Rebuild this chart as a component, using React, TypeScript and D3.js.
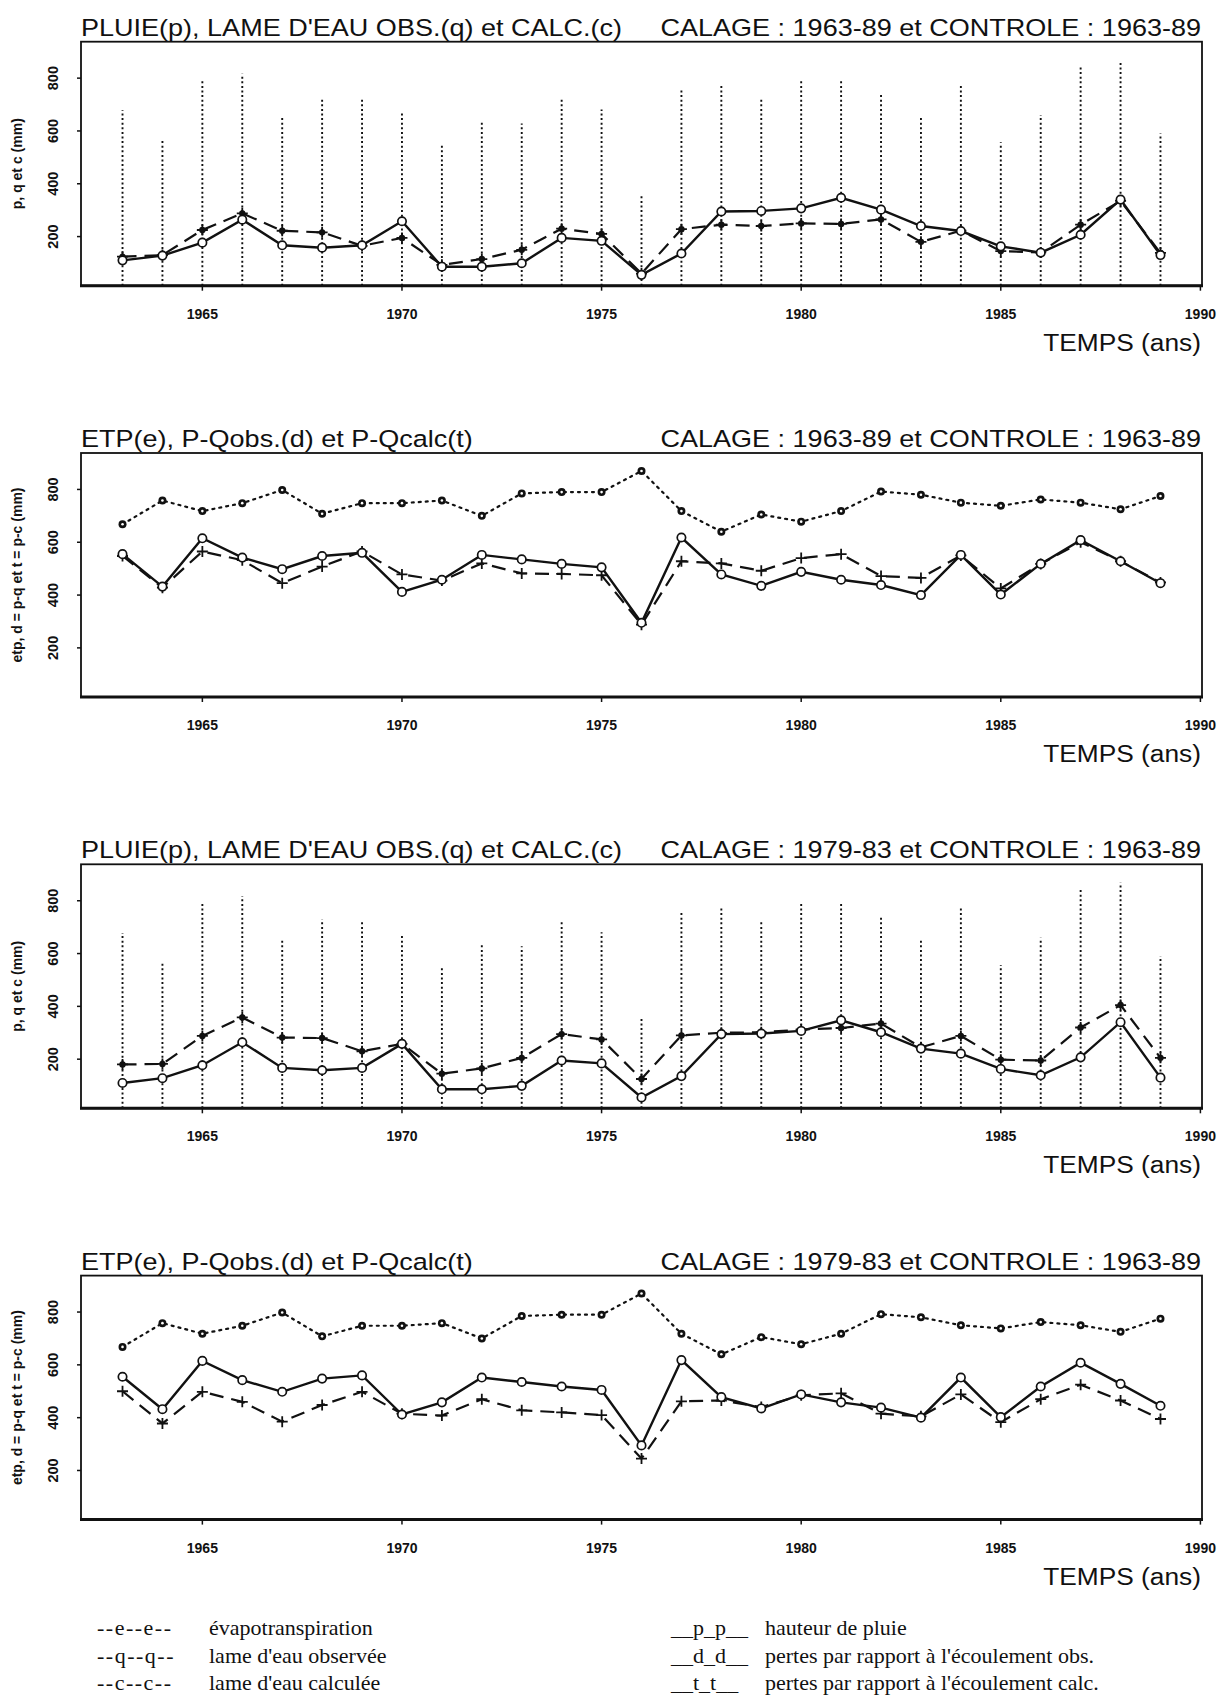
import React from "react";
import * as d3 from "d3";

// ---------- DATA ----------
const years = [1963, 1964, 1965, 1966, 1967, 1968, 1969, 1970, 1971, 1972, 1973, 1974, 1975, 1976, 1977, 1978, 1979, 1980, 1981, 1982, 1983, 1984, 1985, 1986, 1987, 1988, 1989];

// rainfall p (mm)
const pluie = [678, 562, 795, 817, 656, 729, 725, 675, 551, 637, 628, 721, 681, 354, 755, 772, 725, 795, 798, 741, 650, 774, 557, 660, 845, 868, 590];
// observed runoff q (mm)
const qObs = [110, 128, 177, 264, 167, 158, 167, 258, 86, 86, 99, 195, 184, 55, 136, 295, 297, 307, 347, 302, 240, 221, 163, 139, 207, 340, 130];
// calculated runoff c, calibration 1963-89
const cCal6389 = [124, 130, 225, 288, 222, 216, 165, 195, 93, 115, 150, 230, 210, 60, 228, 245, 240, 250, 248, 265, 180, 222, 145, 140, 245, 335, 138];
// calculated runoff c, calibration 1979-83
const cCal7983 = [180, 182, 288, 358, 282, 280, 230, 258, 145, 165, 205, 295, 275, 125, 290, 300, 302, 312, 318, 335, 245, 288, 198, 195, 320, 405, 205];

// evapotranspiration e (mm)
const etp = [668, 758, 718, 748, 798, 708, 748, 748, 758, 700, 785, 790, 790, 870, 718, 640, 705, 678, 718, 792, 780, 750, 738, 762, 750, 725, 775];
// losses d = p - q obs
const dObs = [555, 432, 615, 542, 498, 548, 560, 412, 458, 552, 535, 518, 505, 295, 618, 478, 435, 488, 458, 438, 400, 552, 402, 518, 608, 528, 445];
// losses t = p - c, calibration 1963-89
const tCal6389 = [548, 428, 565, 532, 445, 508, 565, 478, 455, 520, 482, 480, 475, 288, 528, 520, 492, 540, 555, 472, 465, 550, 425, 518, 600, 528, 448];
// losses t = p - c, calibration 1979-83
const tCal7983 = [500, 378, 498, 460, 385, 448, 498, 415, 408, 470, 428, 420, 410, 245, 462, 465, 440, 485, 492, 415, 405, 488, 383, 470, 525, 465, 395];

const xTicks = [1965, 1970, 1975, 1980, 1985, 1990];
const yTicks = [200, 400, 600, 800];

const titlesLeft = [
  "PLUIE(p), LAME D'EAU OBS.(q) et CALC.(c)",
  "ETP(e), P-Qobs.(d) et P-Qcalc(t)",
  "PLUIE(p), LAME D'EAU OBS.(q) et CALC.(c)",
  "ETP(e), P-Qobs.(d) et P-Qcalc(t)",
];
const titlesRight = [
  "CALAGE : 1963-89 et CONTROLE : 1963-89",
  "CALAGE : 1963-89 et CONTROLE : 1963-89",
  "CALAGE : 1979-83 et CONTROLE : 1963-89",
  "CALAGE : 1979-83 et CONTROLE : 1963-89",
];
const yTitles = ["p, q et c (mm)", "etp, d = p-q et t = p-c (mm)", "p, q et c (mm)", "etp, d = p-q et t = p-c (mm)"];
const xTitle = "TEMPS (ans)";

const legendLeftKeys = ["--e--e--", "--q--q--", "--c--c--"];
const legendLeftTexts = ["évapotranspiration", "lame d'eau observée", "lame d'eau calculée"];
const legendRightKeys = ["__p_p__", "__d_d__", "__t_t__"];
const legendRightTexts = ["hauteur de pluie", "pertes par rapport à l'écoulement obs.", "pertes par rapport à l'écoulement calc."];

// ---------- LAYOUT ----------
const W = 1221;
const H = 1697;
const X0 = 81;
const X1 = 1202;
const TOP0 = 41.7;
const PH = 244;
const STEP = 411.3;
const INK = "#111";
const SANS = "'Liberation Sans', Arial, Helvetica, sans-serif";
const SERIF = "'Liberation Serif', 'Times New Roman', serif";

const x = d3.scaleLinear().domain([1961.96, 1990.04]).range([X0, X1]);

function Plus({ cx, cy, s = 5 }: { cx: number; cy: number; s?: number }) {
  return (
    <path d={`M${cx - s},${cy}H${cx + s}M${cx},${cy - s}V${cy + s}`} stroke={INK} strokeWidth={1.8} fill="none" />
  );
}

function Panel({ index }: { index: number }) {
  const top = TOP0 + index * STEP;
  const bottom = top + PH;
  const y = d3.scaleLinear().domain([14, 938]).range([bottom, top]);
  const line = d3
    .line<number>()
    .x((_, i) => x(years[i]))
    .y((d) => y(d));
  const isRain = index % 2 === 0;
  const calibA = index < 2;

  const solid = isRain ? qObs : dObs;
  const dashed = isRain ? (calibA ? cCal6389 : cCal7983) : calibA ? tCal6389 : tCal7983;

  return (
    <g>
      {/* titles */}
      <text
        transform={`translate(${X0},${top - 6}) scale(1.15,1)`}
        fontFamily={SANS}
        fontSize={23.5}
        fill={INK}
      >
        {titlesLeft[index]}
      </text>
      <text
        transform={`translate(${X1 - 1},${top - 6}) scale(1.15,1)`}
        fontFamily={SANS}
        fontSize={23.5}
        fill={INK}
        textAnchor="end"
      >
        {titlesRight[index]}
      </text>

      {/* data */}
      {isRain &&
        pluie.map((v, i) => (
          <line
            key={"p" + i}
            x1={x(years[i])}
            x2={x(years[i])}
            y1={bottom}
            y2={y(v)}
            stroke={INK}
            strokeWidth={1.9}
            strokeDasharray="2,2.6"
          />
        ))}
      {!isRain && (
        <g>
          <path d={line(etp) || ""} fill="none" stroke={INK} strokeWidth={2.2} strokeDasharray="2,5" strokeLinecap="round" />
          {etp.map((v, i) => (
            <g key={"e" + i}>
              <circle cx={x(years[i])} cy={y(v)} r={4} fill={INK} />
              <circle cx={x(years[i])} cy={y(v)} r={1.3} fill="#fff" />
            </g>
          ))}
        </g>
      )}
      <path d={line(dashed) || ""} fill="none" stroke={INK} strokeWidth={2.2} strokeDasharray="14,8" />
      {dashed.map((v, i) =>
        isRain ? (
          <g key={"c" + i}>
            <circle cx={x(years[i])} cy={y(v)} r={3.2} fill={INK} />
            <Plus cx={x(years[i])} cy={y(v)} s={5.5} />
          </g>
        ) : (
          <Plus key={"t" + i} cx={x(years[i])} cy={y(v)} s={5.5} />
        )
      )}
      <path d={line(solid) || ""} fill="none" stroke={INK} strokeWidth={2.4} />
      {solid.map((v, i) => (
        <circle key={"s" + i} cx={x(years[i])} cy={y(v)} r={4.2} fill="#fff" stroke={INK} strokeWidth={1.7} />
      ))}

      {/* frame */}
      <rect x={X0} y={top} width={X1 - X0} height={PH} fill="none" stroke={INK} strokeWidth={1.8} />
      <line x1={X0 - 1} x2={X1 + 1} y1={bottom} y2={bottom} stroke={INK} strokeWidth={3} />

      {/* x axis */}
      {xTicks.map((t) => (
        <g key={"xt" + t}>
          <line x1={x(t)} x2={x(t)} y1={bottom} y2={bottom + 5} stroke={INK} strokeWidth={1.5} />
          <text
            x={x(t)}
            y={bottom + 33}
            textAnchor="middle"
            fontFamily={SANS}
            fontWeight="bold"
            fontSize={14}
            fill={INK}
          >
            {t}
          </text>
        </g>
      ))}
      <text
        transform={`translate(${X1 - 1},${bottom + 65}) scale(1.12,1)`}
        textAnchor="end"
        fontFamily={SANS}
        fontSize={23.5}
        fill={INK}
      >
        {xTitle}
      </text>

      {/* y axis */}
      {yTicks.map((t) => (
        <g key={"yt" + t}>
          <line x1={X0 - 4} x2={X0} y1={y(t)} y2={y(t)} stroke={INK} strokeWidth={1.5} />
          <text
            transform={`translate(53,${y(t)}) rotate(-90)`}
            textAnchor="middle"
            dominantBaseline="central"
            fontFamily={SANS}
            fontWeight="bold"
            fontSize={14.5}
            fill={INK}
          >
            {t}
          </text>
        </g>
      ))}
      <text
        transform={`translate(17,${(top + bottom) / 2}) rotate(-90)`}
        textAnchor="middle"
        dominantBaseline="central"
        fontFamily={SANS}
        fontWeight="bold"
        fontSize={14}
        fill={INK}
      >
        {yTitles[index]}
      </text>
    </g>
  );
}

function Legend() {
  const rows = [1635, 1663, 1690];
  return (
    <g fontFamily={SERIF} fontSize={22} fill={INK}>
      {legendLeftKeys.map((k, i) => (
        <g key={"l" + i}>
          <text x={97} y={rows[i]} letterSpacing={1.5}>{k}</text>
          <text x={209} y={rows[i]}>{legendLeftTexts[i]}</text>
        </g>
      ))}
      {legendRightKeys.map((k, i) => (
        <g key={"r" + i}>
          <text x={671} y={rows[i]}>{k}</text>
          <text x={765} y={rows[i]}>{legendRightTexts[i]}</text>
        </g>
      ))}
    </g>
  );
}

export default function App() {
  return (
    <svg
      width={W}
      height={H}
      viewBox={`0 0 ${W} ${H}`}
      style={{ position: "absolute", left: 0, top: 0, background: "#fff" }}
    >
      <rect x={0} y={0} width={W} height={H} fill="#fff" />
      {[0, 1, 2, 3].map((i) => (
        <Panel key={i} index={i} />
      ))}
      <Legend />
    </svg>
  );
}
